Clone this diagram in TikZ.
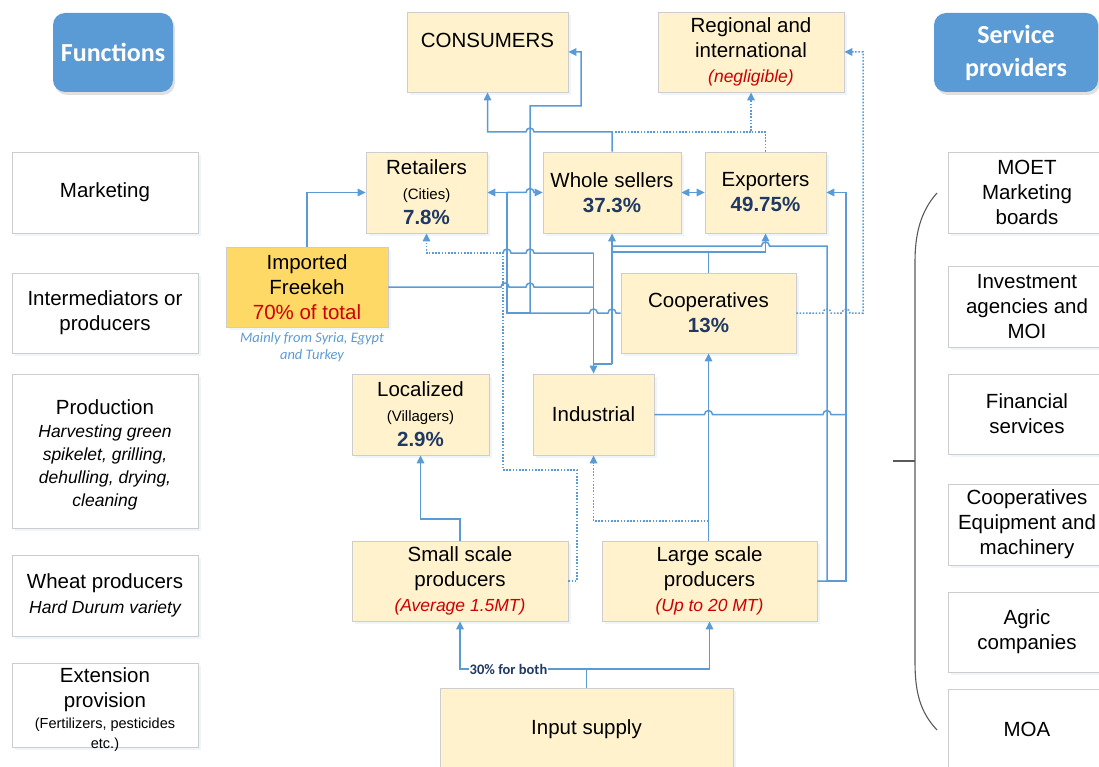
\documentclass[tikz,border=0pt]{standalone}
\usepackage{fontspec}
\setmainfont{Liberation Sans}
\newfontfamily\calfont{Carlito}
\usetikzlibrary{arrows.meta,shadows}

\definecolor{lineblue}{RGB}{91,155,213}
\definecolor{boxfill}{RGB}{255,242,204}
\definecolor{goldfill}{RGB}{255,217,102}
\definecolor{navy}{RGB}{31,56,100}
\definecolor{redtxt}{RGB}{204,0,0}
\definecolor{bracegray}{RGB}{89,89,89}
\definecolor{edgegray}{RGB}{205,205,205}

\newcommand{\fs}[2]{\fontsize{#1}{#2}\selectfont}
\newcommand{\itl}[1]{{\itshape\fs{17.5}{23}#1}}
\newcommand{\sml}[1]{{\fs{14.5}{20}#1}}
% small bridge where a line crosses another one
\newcommand{\hopR}[2]{-- (#1-4,#2) arc[start angle=180,end angle=0,radius=4pt]}
\newcommand{\hopL}[2]{-- (#1+4,#2) arc[start angle=0,end angle=180,radius=4pt]}

\tikzset{
  softshadow/.style={drop shadow={shadow xshift=3pt, shadow yshift=-3pt, fill=lineblue, opacity=0.10}},
  chainbox/.style={draw=edgegray, fill=boxfill, line width=0.8pt, inner sep=0pt,
    align=center, font=\fs{20.5}{25}, softshadow},
  sidebox/.style={draw=edgegray, fill=white, line width=0.8pt, inner sep=0pt,
    align=center, font=\fs{20.5}{25}, minimum width=186pt, softshadow},
  servbox/.style={sidebox, minimum width=158pt},
  header/.style={fill=lineblue, rounded corners=12pt, text=white, inner sep=0pt,
    font=\calfont\bfseries\fs{26}{33}, align=center,
    drop shadow={shadow xshift=2pt, shadow yshift=-3pt, fill=black, opacity=0.12}},
  flow/.style={draw=lineblue, line width=1.5pt},
  dotflow/.style={flow, dash pattern=on 1.6pt off 1.6pt},
  arrowend/.style={-{Triangle[length=8pt,width=7.5pt]}}
}

\begin{document}
\begin{tikzpicture}[x=1pt,y=-1pt]
\useasboundingbox (0,0) rectangle (1099,767);
\clip (0,0) rectangle (1099,767);

% ---------- headers ----------
\node[header, minimum width=120pt, minimum height=79pt] (hfun) at (113,52.5) {Functions};
\node[header, minimum width=164pt, minimum height=79pt] (hsp) at (1016,52.5) {Service\\providers};

% ---------- functions column ----------
\node[sidebox, minimum height=81pt] (fmkt) at (105,192.5) {Marketing};
\node[sidebox, minimum height=80pt] (fint) at (105,313) {Intermediators or\\producers};
\node[sidebox, minimum height=154pt, font=\fs{20.5}{23}] (fprod) at (105,451)
  {\rule{0pt}{23pt}Production\\\itl{Harvesting green}\\\itl{spikelet, grilling,}\\\itl{dehulling, drying,}\\\itl{cleaning}};
\node[sidebox, minimum height=81pt] (fwheat) at (105,595.5)
  {Wheat producers\\\itl{Hard Durum variety}};
\node[sidebox, minimum height=84pt] (fext) at (105,705) {};
\node[align=center, inner sep=0pt, font=\fs{20.5}{25}] (fexttext) at (105,710)
  {Extension\\provision\\[-4pt]\sml{(Fertilizers, pesticides}\\[-5pt]\sml{etc.)}};

% ---------- service providers column ----------
\node[servbox, minimum height=81pt] (smoet) at (1027,192.5) {MOET\\Marketing\\boards};
\node[servbox, minimum height=81pt] (sinv) at (1027,306.5) {Investment\\agencies and\\MOI};
\node[servbox, minimum height=80pt] (sfin) at (1027,414) {Financial\\services};
\node[servbox, minimum height=81pt] (scoop) at (1027,524.5) {Cooperatives\\Equipment and\\machinery};
\node[servbox, minimum height=80pt] (sagr) at (1027,632) {Agric\\companies};
\node[servbox, minimum height=81pt] (smoa) at (1027,729.5) {MOA};

% brace grouping the providers
\draw[bracegray, line width=1.1pt] (937,193) .. controls (920,212) and (915,235) .. (915,262)
  -- (915,662) .. controls (915,692) and (920,712) .. (937,730);
\draw[bracegray, line width=1.1pt] (893,461) -- (915,461);

% ---------- value chain ----------
\node[chainbox, minimum width=161pt, minimum height=80pt] (cons) at (487.5,52) {};
\node[font=\fs{20.5}{25}, inner sep=0pt] (constext) at (487.5,40) {CONSUMERS};
\node[chainbox, minimum width=186pt, minimum height=80pt] (regl) at (751,52)
  {Regional and\\international\\{\itshape\color{redtxt}\fs{17.5}{25}(negligible)}};
\node[chainbox, minimum width=121pt, minimum height=81pt] (ret) at (426.5,192.5)
  {Retailers\\{\fs{15}{25}(Cities)}\\{\bfseries\color{navy}7.8\%}};
\node[chainbox, minimum width=138pt, minimum height=81pt] (ws) at (612,192.5)
  {Whole sellers\\{\bfseries\color{navy}37.3\%}};
\node[chainbox, minimum width=121pt, minimum height=81pt] (exp) at (765.5,192.5)
  {Exporters\\{\bfseries\color{navy}49.75\%}};
\node[chainbox, fill=goldfill, minimum width=162pt, minimum height=80pt] (imp) at (307,287)
  {Imported\\Freekeh\\{\color{redtxt}70\% of total}};
\node[text=lineblue, font=\calfont\itshape\fs{14.5}{17}, align=center, inner sep=0pt] (impnote) at (312,347.5)
  {Mainly from Syria, Egypt\\and Turkey};
\node[chainbox, minimum width=175pt, minimum height=80pt] (coop) at (708.5,313)
  {Cooperatives\\{\bfseries\color{navy}13\%}};
\node[chainbox, minimum width=137pt, minimum height=81pt] (loc) at (420.5,414.5)
  {Localized\\{\fs{15}{25}(Villagers)}\\{\bfseries\color{navy}2.9\%}};
\node[chainbox, minimum width=121pt, minimum height=81pt] (ind) at (593.5,414.5) {Industrial};
\node[chainbox, minimum width=216pt, minimum height=80pt] (small) at (460,581)
  {Small scale\\producers\\{\itshape\color{redtxt}\fs{17.5}{25}(Average 1.5MT)}};
\node[chainbox, minimum width=215pt, minimum height=80pt] (large) at (709.5,581)
  {Large scale\\producers\\{\itshape\color{redtxt}\fs{17.5}{25}(Up to 20 MT)}};
\node[chainbox, minimum width=293pt, minimum height=82pt] (input) at (586.5,729) {Input supply};

% ---------- flows ----------
% whole sellers to consumers
\draw[flow,arrowend] (ws.north) -- (612,132) \hopL{530}{132} -- (487.5,132) -- (cons.south);
% cooperatives to consumers, retailers and whole sellers
\draw[flow,arrowend] (coop.west) \hopL{612}{313} \hopL{593.5}{313} -- (530,313) -- (530,106)
  -- (581,106) -- (581,52) -- (cons.east);
\draw[flow,arrowend] (530,313) -- (507,313) -- (507,192.5) -- (ret.east);
\draw[flow,arrowend] (507,192.5) \hopR{530}{192.5} -- (ws.west);
\draw[flow,{Triangle[length=8pt,width=7.5pt]}-{Triangle[length=8pt,width=7.5pt]}] (ws.east) -- (exp.west);
% imported freekeh
\draw[flow,arrowend] (imp.north) -- (307,192.5) -- (ret.west);
\draw[flow] (imp.east) \hopR{505}{287} \hopR{530}{287} -- (593.5,287);
% industrial feed and retail link
\draw[flow,arrowend] (593.5,253) -- (ind.north);
\draw[flow] (593.5,253) \hopL{530}{253} \hopL{507}{253};
\draw[dotflow,arrowend] (small.east) -- (577,581) -- (577,470) -- (503,470) -- (503,253)
  -- (426.5,253) -- (ret.south);
\draw[flow] (593.5,364) -- (612,364);
\draw[flow,arrowend] (612,364) -- (ws.south);
% cooperatives to whole sellers and exporters
\draw[flow] (coop.north) -- (708.5,252) -- (612,252);
\draw[flow,arrowend] (708.5,252) -- (765.5,252) -- (exp.south);
% large scale producers to whole sellers and exporters
\draw[flow] (large.east) -- (827,581) -- (827,246) \hopL{765.5}{246} -- (612,246);
\draw[flow,arrowend] (827,581) -- (846,581) -- (846,192.5) -- (exp.east);
\draw[flow] (ind.east) \hopR{708.5}{414.5} \hopR{827}{414.5} -- (846,414.5);
\draw[flow,arrowend] (large.north -| coop.south) -- (coop.south);
\draw[dotflow,arrowend] (708.5,521) -- (593.5,521) -- (ind.south);
% small scale producers to localized
\draw[flow,arrowend] (small.north) -- (460,519) -- (420.5,519) -- (loc.south);
% input supply
\draw[flow,arrowend] (input.north) -- (586.5,669) -- (460,669) -- (small.south);
\draw[flow,arrowend] (586.5,669) -- (709.5,669) -- (large.south);
\node[fill=white, inner sep=1pt, font=\calfont\bfseries\fs{14.5}{17}, text=navy] (share) at (508.5,669) {30\% for both};
% exports to regional and international
\draw[dotflow,arrowend] (coop.east) \hopR{827}{313} \hopR{846}{313} -- (863,313) -- (863,52) -- (regl.east);
\draw[dotflow,arrowend] (exp.north) -- (765.5,132) -- (751,132) -- (regl.south);
\draw[dotflow] (751,132) -- (612,132);
\end{tikzpicture}
\end{document}
